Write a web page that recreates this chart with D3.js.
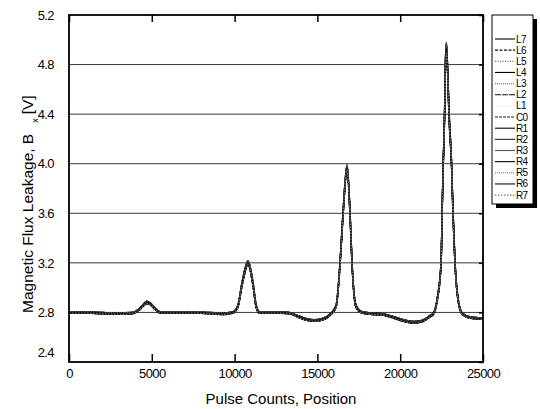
<!DOCTYPE html>
<html>
<head>
<meta charset="utf-8">
<script src="https://cdn.jsdelivr.net/npm/d3@7"></script>
<style>
  html, body { margin: 0; padding: 0; background: #fff; }
  svg { display: block; font-family: "Liberation Sans", Arial, sans-serif; }
</style>
</head>
<body>
<svg id="chart" width="540" height="409"></svg>
<script>
// ---------------- data ----------------
const seriesNames = ["L7","L6","L5","L4","L3","L2","L1","C0","R1","R2","R3","R4","R5","R6","R7"];
// which measured trace each sensor follows (0 = main, 1 = upper, 2 = lower)
const seriesTrace = [1,0,2,1,0,2,0,0,2,1,0,2,1,0,2];

const counts = [0,1000,2000,3000,3800,4200,4500,4700,4900,5200,5500,6500,7500,8500,9300,9900,10200,10450,10810,11110,11300,11500,12500,13300,13800,14300,14800,15300,15820,16130,16370,16550,16790,16970,17090,17330,17700,18200,18900,19500,20200,20800,21300,21800,22000,22230,22470,22530,22600,22680,22730,22790,22850,22950,23100,23190,23310,23500,23750,24200,25000];

const bxMain = [2.800,2.800,2.795,2.790,2.795,2.820,2.860,2.880,2.870,2.830,2.800,2.800,2.800,2.795,2.790,2.800,2.850,3.030,3.200,3.030,2.850,2.800,2.800,2.795,2.770,2.745,2.735,2.745,2.790,2.850,3.200,3.600,3.970,3.600,3.200,2.850,2.800,2.790,2.785,2.765,2.735,2.720,2.730,2.770,2.790,2.900,3.200,3.600,4.000,4.400,4.800,4.930,4.800,4.400,4.000,3.600,3.200,2.900,2.790,2.760,2.750];

const bxUpper = [2.806,2.806,2.800,2.796,2.800,2.826,2.868,2.890,2.878,2.836,2.806,2.806,2.805,2.800,2.796,2.806,2.860,3.045,3.215,3.045,2.862,2.806,2.806,2.800,2.776,2.752,2.742,2.752,2.796,2.860,3.215,3.620,3.990,3.620,3.215,2.860,2.806,2.796,2.790,2.770,2.742,2.727,2.736,2.776,2.796,2.910,3.215,3.620,4.020,4.430,4.830,4.975,4.830,4.430,4.020,3.620,3.215,2.910,2.796,2.766,2.756];

const bxLower = [2.794,2.794,2.789,2.784,2.789,2.814,2.852,2.872,2.862,2.824,2.794,2.794,2.794,2.789,2.783,2.794,2.842,3.015,3.185,3.015,2.840,2.794,2.794,2.789,2.763,2.738,2.728,2.738,2.783,2.842,3.185,3.580,3.950,3.580,3.185,2.840,2.794,2.784,2.779,2.758,2.728,2.713,2.723,2.763,2.783,2.890,3.185,3.580,3.980,4.370,4.770,4.890,4.770,4.370,3.980,3.580,3.185,2.890,2.783,2.754,2.744];

const xTicks = [0,5000,10000,15000,20000,25000];
const yTicks = [2.4,2.8,3.2,3.6,4.0,4.4,4.8,5.2];

// ---------------- styles ----------------
const traces = [bxMain, bxUpper, bxLower];
const lineStyles = [
  {c:"#000", d:null},      // L7
  {c:"#111", d:"3,1.5"},   // L6
  {c:"#333", d:"1,1.5"},   // L5
  {c:"#000", d:null},      // L4
  {c:"#888", d:"1,1"},     // L3
  {c:"#111", d:"6,1"},     // L2
  {c:"#f2f2f2", d:null},   // L1
  {c:"#222", d:"3,1"},     // C0
  {c:"#000", d:null},      // R1
  {c:"#222", d:null},      // R2
  {c:"#555", d:null},      // R3
  {c:"#000", d:null},      // R4
  {c:"#666", d:"1,1"},     // R5
  {c:"#111", d:null},      // R6
  {c:"#777", d:"1.5,1.5"}  // R7
];

const svg = d3.select("#chart");
const pL = 69, pR = 483, pT = 15, pB = 362;

const x = d3.scaleLinear().domain([0, 25000]).range([pL, pR]);
const y = d3.scaleLinear().domain([2.4, 5.2]).range([pB, pT]);

// gridlines
svg.append("g").selectAll("line")
  .data(yTicks.filter(v => v > 2.4 && v < 5.2))
  .join("line")
  .attr("x1", pL).attr("x2", pR)
  .attr("y1", d => y(d)).attr("y2", d => y(d))
  .attr("stroke", "#3a3a3a").attr("stroke-width", 1);

// series lines
const line = d3.line()
  .x((d, i) => x(counts[i]))
  .y(d => y(d))
  .curve(d3.curveMonotoneX);

const lineG = svg.append("g");
seriesNames.forEach((name, k) => {
  const st = lineStyles[k];
  lineG.append("path")
    .datum(traces[seriesTrace[k]])
    .attr("d", line)
    .attr("fill", "none")
    .attr("stroke", st.c)
    .attr("stroke-width", 1.35)
    .attr("stroke-dasharray", st.d);
});

// axes
const fmtX = d3.format("d");
const fmtY = d3.format(".1f");

const xAxis = svg.append("g")
  .attr("transform", `translate(0,${pB})`)
  .call(d3.axisBottom(x).tickValues(xTicks).tickSize(-8).tickPadding(7).tickFormat(fmtX));
const xTop = svg.append("g")
  .attr("transform", `translate(0,${pT})`)
  .call(d3.axisTop(x).tickValues(xTicks).tickSize(-7).tickFormat(""));
const yAxis = svg.append("g")
  .attr("transform", `translate(${pL},0)`)
  .call(d3.axisLeft(y).tickValues(yTicks).tickSize(0).tickPadding(15).tickFormat(fmtY));
const yRight = svg.append("g")
  .attr("transform", `translate(${pR},0)`)
  .call(d3.axisRight(y).tickValues(yTicks).tickSize(-4).tickFormat(""));

[xAxis, xTop, yAxis, yRight].forEach(g => {
  g.select(".domain").remove();
  g.selectAll("line").attr("stroke", "#000").attr("stroke-width", 1.5);
  g.selectAll("text")
    .attr("fill", "#000")
    .style("font-size", "13px")
    .style("letter-spacing", "-0.6px")
    .style("font-family", "'Liberation Sans', Arial, sans-serif");
});
// bottom-most y label sits a little above the corner in the original
yAxis.selectAll(".tick").filter(d => d === 2.4).select("text").attr("dy", "-0.45em");

// frame
svg.append("rect")
  .attr("x", pL).attr("y", pT)
  .attr("width", pR - pL).attr("height", pB - pT)
  .attr("fill", "none").attr("stroke", "#000").attr("stroke-width", 1.8);

// axis titles
svg.append("text")
  .attr("x", (pL + pR) / 2 + 5).attr("y", 404)
  .attr("text-anchor", "middle")
  .style("font-size", "15px")
  .text("Pulse Counts, Position");

const yt = svg.append("text")
  .attr("transform", "translate(33,313) rotate(-90)")
  .attr("text-anchor", "start")
  .style("font-size", "15.5px");
yt.append("tspan").text("Magnetic Flux Leakage, B");
yt.append("tspan").attr("dx", 11).attr("dy", 5).style("font-size", "9px").text("x");
yt.append("tspan").attr("dx", 4).attr("dy", -5).text("[V]");

// legend
const lg = svg.append("g");
lg.append("rect").attr("x", 496).attr("y", 19).attr("width", 41).attr("height", 189).attr("fill", "#000");
lg.append("rect").attr("x", 492).attr("y", 15).attr("width", 41).attr("height", 189)
  .attr("fill", "#fff").attr("stroke", "#000").attr("stroke-width", 1);
const rowY = i => 39 + i * 11.15;
seriesNames.forEach((name, k) => {
  const st = lineStyles[k];
  lg.append("line")
    .attr("x1", 495).attr("x2", 515)
    .attr("y1", rowY(k)).attr("y2", rowY(k))
    .attr("stroke", st.c).attr("stroke-width", 1.1)
    .attr("stroke-dasharray", st.d);
  lg.append("text")
    .attr("x", 516).attr("y", rowY(k))
    .attr("dy", "0.35em")
    .style("font-size", "10px")
    .style("letter-spacing", "-0.6px")
    .text(name);
});
</script>
</body>
</html>
